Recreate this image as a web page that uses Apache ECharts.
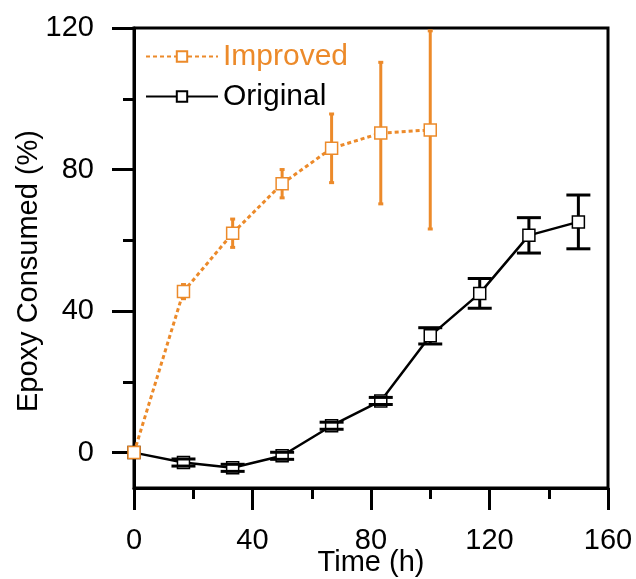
<!DOCTYPE html>
<html>
<head>
<meta charset="utf-8">
<script src="https://cdn.jsdelivr.net/npm/echarts@6/dist/echarts.min.js"></script>
<style>
  html, body { margin: 0; padding: 0; background: #fff; }
  #chart { width: 636px; height: 579px; }
</style>
</head>
<body>
<div id="chart"></div>
<script>
const timeH = [0, 16.7, 33.3, 50, 66.7, 83.3, 100, 116.7, 133.3, 150]
const improved = [0, 45.5, 62, 76, 86, 90.3, 91.2]
const improvedErr = [0, 2, 4, 4, 9.7, 20, 28]
const original = [0, -2.8, -4.3, -0.9, 7.6, 14.6, 33, 45, 61.4, 65.2]
const originalErr = [0, 1, 1, 1, 1, 1, 2.3, 4.2, 5, 7.6]
const yTicks = [0, 40, 80, 120]
const yMinorTicks = [20, 60, 100]

const orange = '#EC8A2A'
const font = 'Liberation Sans, Arial, sans-serif'

const pairs = (xs, ys) => ys.map((v, i) => [xs[i], v])
const errRows = (xs, ys, es) => ys.map((v, i) => [xs[i], v - es[i], v + es[i], v])

// vertical bar stops at the square's edge, caps are drawn on top
const errorBars = (color, capW, lw) => (params, api) => {
  const x = api.value(0)
  const lo = api.coord([x, api.value(1)])
  const hi = api.coord([x, api.value(2)])
  const mid = api.coord([x, api.value(3)])
  const half = 6
  const style = { stroke: color, lineWidth: lw }
  const children = []
  if (hi[1] < mid[1] - half) {
    children.push({ type: 'line', shape: { x1: hi[0], y1: hi[1], x2: mid[0], y2: mid[1] - half }, style })
  }
  if (lo[1] > mid[1] + half) {
    children.push({ type: 'line', shape: { x1: mid[0], y1: mid[1] + half, x2: lo[0], y2: lo[1] }, style })
  }
  if (api.value(2) !== api.value(1)) {
    children.push({ type: 'line', shape: { x1: hi[0] - capW / 2, y1: hi[1], x2: hi[0] + capW / 2, y2: hi[1] }, style })
    children.push({ type: 'line', shape: { x1: lo[0] - capW / 2, y1: lo[1], x2: lo[0] + capW / 2, y2: lo[1] }, style })
  }
  return { type: 'group', children }
}

const myChart = echarts.init(document.getElementById('chart'))
const option = {
  animation: false,
  textStyle: { fontFamily: font },
  grid: {
    left: 134, right: 28, top: 28, bottom: 91,
    outerBoundsMode: 'none',
    show: true, borderColor: '#000', borderWidth: 3
  },
  legend: {
    orient: 'vertical',
    left: 140,
    top: 36,
    itemWidth: 72,
    itemHeight: 13,
    itemGap: 9,
    textStyle: { fontSize: 30, fontFamily: font, lineHeight: 31, padding: [0, 0, 0, 0] },
    data: [
      { name: 'Improved', textStyle: { color: orange } },
      { name: 'Original', textStyle: { color: '#000' } }
    ]
  },
  xAxis: {
    type: 'value',
    min: 0,
    max: 160,
    interval: 40,
    name: 'Time (h)',
    nameLocation: 'middle',
    nameGap: 60,
    nameMoveOverlap: false,
    nameTextStyle: { color: '#000', fontSize: 29, fontFamily: font },
    axisLine: { onZero: false, lineStyle: { color: '#000', width: 3 } },
    axisTick: { length: 22, lineStyle: { color: '#000', width: 3 } },
    minorTick: { show: true, splitNumber: 2, length: 11, lineStyle: { color: '#000', width: 3 } },
    axisLabel: { color: '#000', fontSize: 29, margin: 38, fontFamily: font },
    splitLine: { show: false }
  },
  yAxis: [
    {
      type: 'value',
      min: -10,
      max: 120,
      name: 'Epoxy Consumed (%)',
      nameLocation: 'middle',
      nameGap: 91,
      nameMoveOverlap: false,
      nameTextStyle: { color: '#000', fontSize: 29, fontFamily: font, padding: [0, 26, 0, 0] },
      axisLine: { show: true, lineStyle: { color: '#000', width: 3 } },
      axisTick: { show: true, length: 22, customValues: yTicks, lineStyle: { color: '#000', width: 3 } },
      axisLabel: { color: '#000', fontSize: 29, margin: 40, customValues: yTicks, fontFamily: font },
      splitLine: { show: false }
    },
    {
      type: 'value',
      min: -10,
      max: 120,
      position: 'left',
      axisLine: { show: false },
      axisTick: { show: true, length: 11, customValues: yMinorTicks, lineStyle: { color: '#000', width: 3 } },
      axisLabel: { show: false },
      splitLine: { show: false }
    }
  ],
  series: [
    {
      name: 'Original',
      type: 'line',
      data: pairs(timeH, original),
      symbol: 'rect',
      symbolSize: 12,
      z: 3,
      lineStyle: { color: '#000', width: 2.5 },
      itemStyle: { color: '#fff', borderColor: '#000', borderWidth: 1.5 }
    },
    {
      name: 'Improved',
      type: 'line',
      data: pairs(timeH, improved),
      symbol: 'rect',
      symbolSize: 12,
      z: 4,
      lineStyle: { color: orange, width: 3, type: [4, 3] },
      itemStyle: { color: '#fff', borderColor: orange, borderWidth: 1.5 }
    },
    {
      type: 'custom',
      z: 5,
      data: errRows(timeH, original, originalErr),
      renderItem: errorBars('#000', 24, 3),
      silent: true
    },
    {
      type: 'custom',
      z: 6,
      data: errRows(timeH, improved, improvedErr),
      renderItem: errorBars(orange, 5, 3),
      silent: true
    }
  ]
}
myChart.setOption(option)
</script>
</body>
</html>
